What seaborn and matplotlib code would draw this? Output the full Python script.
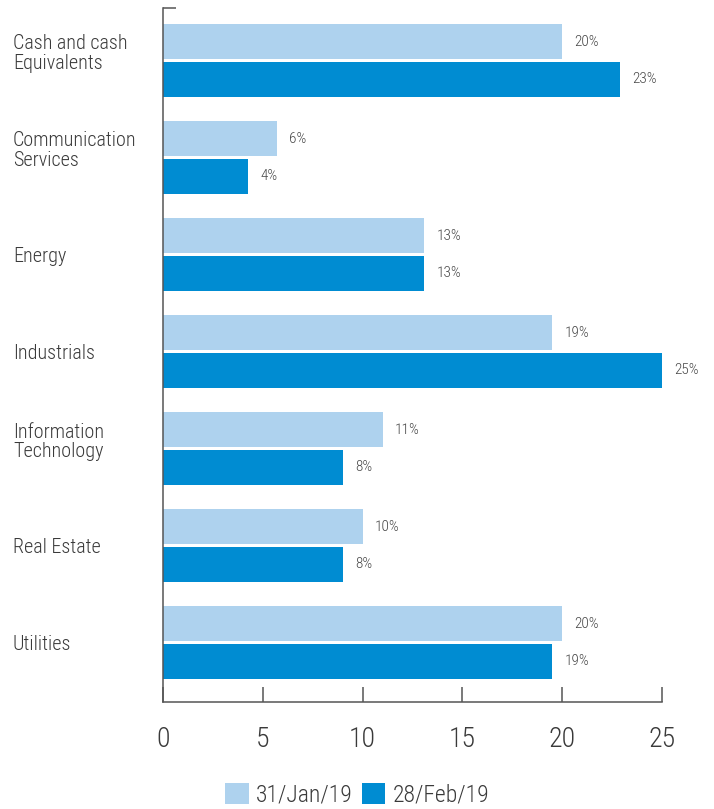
import matplotlib
matplotlib.use("Agg")
import matplotlib.pyplot as plt
import matplotlib.transforms as mtransforms
from matplotlib import font_manager
import seaborn as sns
import pandas as pd

# ---- data ----
categories = ["Cash and cash\nEquivalents", "Communication\nServices", "Energy",
              "Industrials", "Information\nTechnology", "Real Estate", "Utilities"]
series_names = ["31/Jan/19", "28/Feb/19"]
jan_values = [20.0, 5.7, 13.1, 19.5, 11.0, 10.0, 20.0]
feb_values = [22.9, 4.25, 13.1, 25.0, 9.0, 9.0, 19.5]
jan_labels = ["20%", "6%", "13%", "19%", "11%", "10%", "20%"]
feb_labels = ["23%", "4%", "13%", "25%", "8%", "8%", "19%"]
x_ticks = [0, 5, 10, 15, 20, 25]
colors = ["#AED2EE", "#008CD2"]

sns.set_theme(style="white")
available = {f.name for f in font_manager.fontManager.ttflist}
fam = [f for f in ["Roboto Condensed", "Liberation Sans Narrow", "Roboto",
                   "Liberation Sans", "DejaVu Sans"] if f in available]
plt.rcParams["font.family"] = fam
plt.rcParams["font.weight"] = "light"

df = pd.DataFrame({
    "category": categories * 2,
    "series": [s for s in series_names for _ in categories],
    "value": jan_values + feb_values,
})

fig = plt.figure(figsize=(7.14, 8.09), dpi=100)
ax = fig.add_axes([163 / 714, 1 - 702 / 809, (662 - 163) / 714, (702 - 8) / 809])
sns.barplot(data=df, y="category", x="value", hue="series", orient="h",
            palette=colors, width=0.78, gap=0.08, saturation=1, errorbar=None,
            linewidth=0, ax=ax)

ax.set_xlim(0, 25)
ax.set_ylim(6.613, -0.541)
ax.set_xticks(x_ticks)
ax.set_xlabel("")
ax.set_ylabel("")
ax.grid(False)

for cont, labs in zip(ax.containers, [jan_labels, feb_labels]):
    ax.bar_label(cont, labels=labs, padding=9, fontsize=11, color="#474747")

sns.despine(ax=ax, top=True, right=True)
for s in ["left", "bottom"]:
    ax.spines[s].set_color("#555555")
    ax.spines[s].set_linewidth(1.1)

ax.tick_params(axis="x", bottom=True, direction="in", length=11, width=1.1,
               color="#555555", pad=17, labelsize=20, labelcolor="#3a3a3a")
ax.tick_params(axis="y", which="major", left=False, length=0, pad=108,
               labelsize=14.5, labelcolor="#3a3a3a")
ax.set_yticks([-0.541], minor=True)
ax.tick_params(axis="y", which="minor", left=True, direction="in", length=9.5,
               width=1.1, color="#555555")

for lab in ax.get_yticklabels():
    lab.set_ha("left")
    lab.set_linespacing(1.05)
    if "\n" in lab.get_text():
        lab.set_transform(lab.get_transform() +
                          mtransforms.ScaledTranslation(0, 0.09, fig.dpi_scale_trans))

handles, labels = ax.get_legend_handles_labels()
if ax.get_legend() is not None:
    ax.get_legend().remove()
fig.legend(handles, labels, loc="lower center", bbox_to_anchor=(0.5, 0.003),
           ncol=2, frameon=False, fontsize=17, handlelength=1.0, handleheight=1.0,
           handletextpad=0.3, columnspacing=0.4, borderpad=0, borderaxespad=0,
           labelcolor="#3a3a3a")

fig.savefig("out.png", dpi=100)
